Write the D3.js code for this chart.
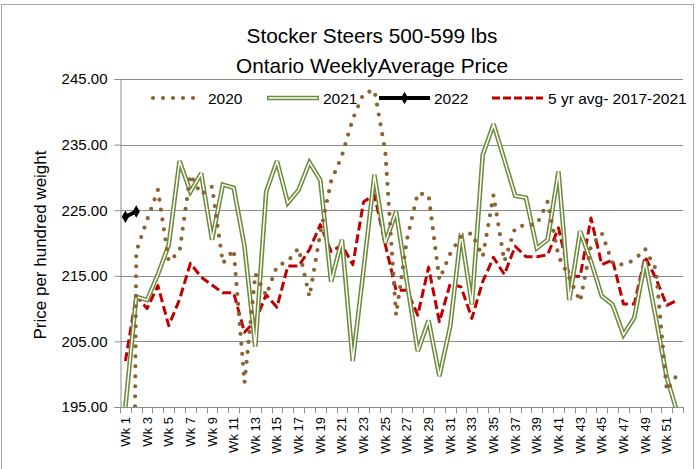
<!DOCTYPE html>
<html>
<head>
<meta charset="utf-8">
<script src="https://cdn.jsdelivr.net/npm/d3@7"></script>
<style>
  html, body { margin: 0; padding: 0; background: #ffffff; }
  svg { display: block; }
  text { font-family: "Liberation Sans", Arial, sans-serif; fill: #000; }
</style>
</head>
<body>
<svg id="chart" width="696" height="469"></svg>
<script>
// ---------------- data ----------------
const weeks = ["Wk 1","Wk 2","Wk 3","Wk 4","Wk 5","Wk 6","Wk 7","Wk 8","Wk 9","Wk 10",
  "Wk 11","Wk 12","Wk 13","Wk 14","Wk 15","Wk 16","Wk 17","Wk 18","Wk 19","Wk 20",
  "Wk 21","Wk 22","Wk 23","Wk 24","Wk 25","Wk 26","Wk 27","Wk 28","Wk 29","Wk 30",
  "Wk 31","Wk 32","Wk 33","Wk 34","Wk 35","Wk 36","Wk 37","Wk 38","Wk 39","Wk 40",
  "Wk 41","Wk 42","Wk 43","Wk 44","Wk 45","Wk 46","Wk 47","Wk 48","Wk 49","Wk 50",
  "Wk 51","Wk 52"];
const tickLabelWeeks = ["Wk 1","Wk 3","Wk 5","Wk 7","Wk 9","Wk 11","Wk 13","Wk 15","Wk 17",
  "Wk 19","Wk 21","Wk 23","Wk 25","Wk 27","Wk 29","Wk 31","Wk 33","Wk 35","Wk 37","Wk 39",
  "Wk 41","Wk 43","Wk 45","Wk 47","Wk 49","Wk 51"];
const yTicks = [195, 205, 215, 225, 235, 245];

const price2020 = [0, 218.7, 223.5, 228.1, 217.2, 218.7, 230.4, 227.4, 228.6, 216.9,
  219.0, 198.7, 215.3, 212.0, 216.5, 217.2, 219.2, 211.8, 221.5, 229.4,
  233.3, 238.9, 242.8, 243.3, 234.0, 209.0, 220.5, 227.6, 227.3, 214.4,
  218.4, 221.0, 221.5, 217.9, 227.3, 217.2, 222.3, 222.8, 222.8, 226.3,
  218.0, 214.7, 211.1, 219.5, 221.5, 216.9, 216.7, 217.4, 219.1, 216.0,
  197.5, 200.0];
const price2021 = [195.0, 211.8, 211.3, 215.2, 219.7, 232.5, 227.8, 230.6, 220.5, 228.9,
  228.4, 219.5, 204.2, 227.8, 232.5, 226.1, 228.1, 232.3, 229.6, 214.1,
  220.5, 202.0, 216.0, 230.4, 220.0, 224.8, 214.1, 203.5, 208.2, 199.7,
  207.3, 221.5, 210.6, 233.4, 238.1, 232.7, 227.2, 226.9, 219.2, 220.5,
  230.9, 211.3, 221.8, 217.2, 211.9, 210.6, 206.0, 208.6, 217.2, 208.5,
  199.5, 194.0];
const price2022 = [224.0, 224.8];
const avg5yr = [202.0, 212.0, 210.0, 213.5, 207.4, 211.4, 216.9, 214.8, 213.6, 212.4,
  212.4, 206.4, 208.1, 212.1, 210.2, 216.5, 216.5, 219.0, 222.8, 218.7,
  219.7, 216.7, 226.3, 227.3, 219.8, 212.8, 212.8, 209.0, 216.3, 208.0,
  213.8, 213.3, 208.5, 214.1, 217.8, 215.2, 219.5, 217.9, 217.9, 218.2,
  222.3, 215.0, 214.9, 223.8, 216.7, 217.4, 210.7, 210.7, 217.9, 214.6,
  210.5, 211.3];

const seriesNames = ["2020", "2021", "2022", "5 yr avg- 2017-2021"];
const titleLines = ["Stocker Steers 500-599 lbs", "Ontario WeeklyAverage Price"];
const yTitle = "Price per hundred weight";

// ---------------- layout ----------------
const svg = d3.select("#chart");
const plot = { left: 120, right: 683, top: 79, bottom: 407 };
const colors = { c2020: "#8C6432", c2021: "#6E8B3D", c2022: "#000000", avg: "#C00000", grid: "#8C8C8C", axis: "#8C8C8C" };

svg.append("rect").attr("x", 0).attr("y", 0).attr("width", 696).attr("height", 469).attr("fill", "#fff");
// outer frame
svg.append("rect").attr("x", 1.5).attr("y", 4.5).attr("width", 692).attr("height", 480)
  .attr("fill", "none").attr("stroke", "#a6a6a6").attr("stroke-width", 1);

const x = d3.scaleBand().domain(weeks).range([plot.left, plot.right]).padding(0);
const y = d3.scaleLinear().domain([195, 245]).range([plot.bottom, plot.top]);
const cx = w => x(w) + x.bandwidth() / 2;

// gridlines
svg.append("g").selectAll("line").data(yTicks.filter(v => v > 195)).join("line")
  .attr("x1", plot.left).attr("x2", plot.right)
  .attr("y1", d => Math.round(y(d)) + 0.5).attr("y2", d => Math.round(y(d)) + 0.5)
  .attr("stroke", colors.grid).attr("stroke-width", 1);

// y axis
const yAxis = d3.axisLeft(y).tickValues(yTicks).tickFormat(d3.format(".2f")).tickSize(6).tickPadding(7);
const gy = svg.append("g").attr("transform", `translate(${plot.left + 0.5},0)`).call(yAxis);
gy.select(".domain").attr("stroke", colors.axis);
gy.selectAll(".tick line").attr("stroke", colors.axis);
gy.selectAll(".tick text").style("font-size", "15px").style("font-family", "'Liberation Sans', Arial, sans-serif");

// x axis: line + boundary ticks
const gx = svg.append("g");
gx.append("line").attr("x1", plot.left).attr("x2", plot.right)
  .attr("y1", plot.bottom + 0.5).attr("y2", plot.bottom + 0.5).attr("stroke", colors.axis);
const bounds = weeks.map(w => x(w)).concat([x(weeks[weeks.length - 1]) + x.bandwidth()]);
gx.selectAll("line.tk").data(bounds).join("line").attr("class", "tk")
  .attr("x1", d => Math.round(d) + 0.5).attr("x2", d => Math.round(d) + 0.5)
  .attr("y1", plot.bottom).attr("y2", plot.bottom + 6).attr("stroke", colors.axis);
gx.selectAll("text").data(tickLabelWeeks).join("text")
  .attr("transform", d => `translate(${cx(d) + 4.5},${plot.bottom + 10}) rotate(-90)`)
  .attr("text-anchor", "end").style("font-size", "13px").text(d => d);

// clip
svg.append("clipPath").attr("id", "clip").append("rect")
  .attr("x", plot.left).attr("y", plot.top).attr("width", plot.right - plot.left).attr("height", plot.bottom - plot.top);
const g = svg.append("g").attr("clip-path", "url(#clip)");

const line = d3.line().x((d, i) => cx(weeks[i])).y(d => y(d));

// 5 yr avg
g.append("path").attr("d", line(avg5yr)).attr("fill", "none")
  .attr("stroke", colors.avg).attr("stroke-width", 3).attr("stroke-dasharray", "9 4")
  .attr("stroke-linejoin", "round");
// 2021 double line
g.append("path").attr("d", line(price2021)).attr("fill", "none")
  .attr("stroke", colors.c2021).attr("stroke-width", 4.6).attr("stroke-linejoin", "miter").attr("stroke-miterlimit", 2.5);
g.append("path").attr("d", line(price2021)).attr("fill", "none")
  .attr("stroke", "#ffffff").attr("stroke-width", 1.5).attr("stroke-linejoin", "miter").attr("stroke-miterlimit", 2.5);
// 2020 round dots
g.append("path").attr("d", line(price2020)).attr("fill", "none")
  .attr("stroke", colors.c2020).attr("stroke-width", 4.2).attr("stroke-dasharray", "0 10")
  .attr("stroke-linecap", "round");
// 2022
g.append("path").attr("d", line(price2022)).attr("fill", "none")
  .attr("stroke", colors.c2022).attr("stroke-width", 4);
const diamond = d3.symbol().type(d3.symbolDiamond).size(45);
g.selectAll("path.mk").data(price2022).join("path").attr("class", "mk")
  .attr("d", diamond).attr("transform", (d, i) => `translate(${cx(weeks[i])},${y(d)})`)
  .attr("fill", colors.c2022);

// title
svg.append("g").selectAll("text").data(titleLines).join("text")
  .attr("x", 372).attr("y", (d, i) => 43 + i * 30).attr("text-anchor", "middle")
  .style("font-size", "20.8px").text(d => d);

// y title
svg.append("text").attr("transform", "translate(46,245) rotate(-90)").attr("text-anchor", "middle")
  .style("font-size", "17px").text(yTitle);

// legend
const lg = svg.append("g");
const ly = 98;
const items = [
  { name: seriesNames[0], x0: 153, x1: 203, tx: 208 },
  { name: seriesNames[1], x0: 267, x1: 319, tx: 323 },
  { name: seriesNames[2], x0: 379, x1: 430, tx: 434 },
  { name: seriesNames[3], x0: 492, x1: 543, tx: 548 }
];
// 2020 sample
lg.append("line").attr("x1", items[0].x0).attr("x2", items[0].x1).attr("y1", ly).attr("y2", ly)
  .attr("stroke", colors.c2020).attr("stroke-width", 4.2).attr("stroke-dasharray", "0 10").attr("stroke-linecap", "round");
// 2021 sample
lg.append("line").attr("x1", items[1].x0).attr("x2", items[1].x1).attr("y1", ly).attr("y2", ly)
  .attr("stroke", colors.c2021).attr("stroke-width", 4.6);
lg.append("line").attr("x1", items[1].x0 + 1.5).attr("x2", items[1].x1 - 1.5).attr("y1", ly).attr("y2", ly)
  .attr("stroke", "#fff").attr("stroke-width", 1.5);
// 2022 sample
lg.append("line").attr("x1", items[2].x0).attr("x2", items[2].x1).attr("y1", ly).attr("y2", ly)
  .attr("stroke", colors.c2022).attr("stroke-width", 4);
lg.append("path").attr("d", diamond).attr("transform", `translate(${(items[2].x0 + items[2].x1) / 2},${ly})`).attr("fill", colors.c2022);
// avg sample
lg.append("line").attr("x1", items[3].x0).attr("x2", items[3].x1).attr("y1", ly).attr("y2", ly)
  .attr("stroke", colors.avg).attr("stroke-width", 3).attr("stroke-dasharray", "8 3");
lg.selectAll("text").data(items).join("text")
  .attr("x", d => d.tx).attr("y", ly + 5.5).style("font-size", "15.5px").text(d => d.name);
</script>
</body>
</html>
